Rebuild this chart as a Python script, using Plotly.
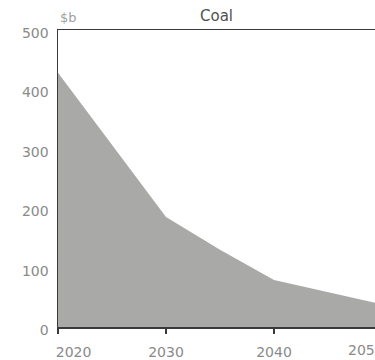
import plotly.graph_objects as go

years = [2020, 2030, 2035, 2040, 2050]
coal_values = [428, 185, 130, 79, 38]
x_tick_vals = [2020, 2030, 2040]
x_tick_text = ["\u00a0" * 7 + "2020", "2030", "2040"]
last_label = "2050"
last_label_year = 2050
y_tick_vals = [0, 100, 200, 300, 400, 500]

FONT = "DejaVu Sans"
x_range = [2020, 2049.35]

fig = go.Figure()
fig.add_trace(go.Scatter(
    x=years, y=coal_values, mode="lines", fill="tozeroy",
    line=dict(color="#a9a9a7", width=0), fillcolor="#a9a9a7",
    hoverinfo="skip", showlegend=False,
))

fig.update_layout(
    width=375, height=360,
    margin=dict(l=58, r=0, t=30, b=33),
    paper_bgcolor="white", plot_bgcolor="white",
    font=dict(family=FONT, color="#8a8a8a", size=14),
    xaxis=dict(
        range=x_range, tickvals=x_tick_vals, ticktext=x_tick_text,
        showgrid=False, zeroline=False, showline=True, linecolor="#3a3a3a", linewidth=1.5,
        mirror=True, ticks="outside", ticklen=5, tickcolor="#3a3a3a", tickwidth=1.5,
        ticklabelstandoff=7,
        tickfont=dict(family=FONT, size=14, color="#8a8a8a"),
    ),
    yaxis=dict(
        range=[0, 500], tickvals=y_tick_vals,
        showgrid=False, zeroline=False, showline=True, linecolor="#3a3a3a", linewidth=1.5,
        ticks="", ticklabelstandoff=5, ticklabelshift=3,
        tickfont=dict(family=FONT, size=14, color="#8a8a8a"),
    ),
    annotations=[
        dict(text="Coal", xref="paper", yref="paper", x=0.5, y=1, yanchor="bottom",
             yshift=3, showarrow=False, font=dict(family=FONT, size=15, color="#505050")),
        dict(text="$b", xref="paper", yref="paper", x=0, y=1, xanchor="left", yanchor="bottom",
             yshift=3, showarrow=False, font=dict(family=FONT, size=13, color="#a0a0a0")),
        dict(text=last_label, xref="paper", yref="paper",
             x=(last_label_year - x_range[0]) / (x_range[1] - x_range[0]), y=0,
             xanchor="right", yanchor="top", yshift=-13, xshift=4, showarrow=False,
             font=dict(family=FONT, size=14, color="#8a8a8a")),
    ],
)

fig.write_html("out.html", config={"displayModeBar": False, "staticPlot": True},
               post_script="document.body.style.margin='0';document.body.style.overflow='hidden';")
